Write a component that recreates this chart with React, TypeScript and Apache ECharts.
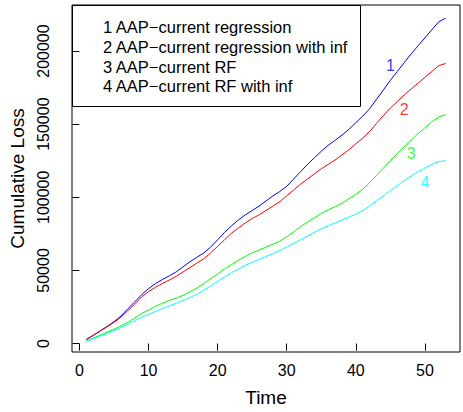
import React, { useEffect, useRef } from "react";
import * as echarts from "echarts";

const time = [1, 2, 3, 4, 5, 6, 7, 8, 9, 10, 11, 12, 13, 14, 15, 16, 17, 18, 19, 20, 21, 22, 23, 24, 25, 26, 27, 28, 29, 30, 31, 32, 33, 34, 35, 36, 37, 38, 39, 40, 41, 42, 43, 44, 45, 46, 47, 48, 49, 50, 51, 52, 53];

const regression = [2900, 5700, 8700, 11800, 15000, 18800, 23800, 28500, 33500, 37500, 41000, 43800, 46300, 49000, 52500, 56000, 59000, 62000, 66000, 71000, 76000, 80500, 84500, 88000, 91000, 94000, 97500, 101000, 104000, 107500, 112500, 117500, 122500, 127000, 131500, 135500, 139000, 142500, 146500, 151000, 155500, 160500, 167000, 173500, 180000, 186000, 192000, 198000, 203500, 209000, 214500, 220000, 222500];

const regressionInf = [2700, 5500, 8500, 11500, 14500, 18000, 22500, 27000, 32000, 35500, 38500, 41000, 43500, 46000, 49000, 52000, 55000, 58000, 62000, 66500, 71000, 75500, 79000, 82500, 85500, 88000, 91000, 94000, 97000, 101000, 105000, 109000, 112500, 116000, 119500, 122500, 125500, 129000, 132500, 136500, 140500, 145000, 150500, 156000, 161000, 165500, 170000, 174000, 178000, 182000, 186000, 190000, 191500];

const rf = [1800, 3800, 5800, 7800, 9800, 12000, 14500, 17500, 20500, 23000, 25500, 27500, 29500, 31000, 33000, 35500, 38000, 41000, 44500, 47500, 51000, 54000, 57000, 59500, 62000, 64000, 66000, 68000, 70000, 73000, 76500, 80000, 83000, 86000, 89000, 91500, 93500, 96000, 99000, 102000, 105500, 110000, 115000, 120000, 125000, 130000, 134500, 139000, 143500, 147500, 151500, 155000, 156500];

const rfInf = [1500, 3300, 5100, 7000, 8900, 11000, 13300, 15800, 18000, 20000, 22000, 24000, 25800, 27500, 29500, 31500, 33800, 36500, 39500, 42500, 45500, 48500, 51000, 53500, 55500, 57500, 59500, 61500, 63700, 66000, 68500, 71000, 73500, 76000, 78500, 80500, 82500, 84500, 86500, 88500, 91000, 94000, 97500, 101000, 104500, 108000, 111500, 114500, 117500, 120000, 122500, 124500, 125000];

const seriesNames = [
  "1 AAP\u2212current regression",
  "2 AAP\u2212current regression with inf",
  "3 AAP\u2212current RF",
  "4 AAP\u2212current RF with inf",
];
const seriesColors = ["#0000FF", "#FF0000", "#00FF00", "#00FFFF"];
const curveTags = ["1", "2", "3", "4"];
const tagTime = [45, 47, 48, 50];
const tagLoss = [190000, 160000, 130000, 110000];
const xTicks = [0, 10, 20, 30, 40, 50];
const yTicks = [0, 50000, 100000, 150000, 200000];

const FONT = '"Liberation Sans", Arial, Helvetica, sans-serif';

export default function App() {
  const ref = useRef<HTMLDivElement>(null);
  useEffect(() => {
    if (!ref.current) return;
    const chart = echarts.init(ref.current, undefined, { renderer: "svg" });
    const allSeries = [regression, regressionInf, rf, rfInf];
    const lineSeries = allSeries.map((vals, i) => ({
      type: "line",
      name: seriesNames[i],
      data: time.map((t, j) => [t, vals[j]]),
      showSymbol: false,
      symbol: "none",
      silent: true,
      lineStyle: { color: seriesColors[i], width: 1 },
      itemStyle: { color: seriesColors[i] },
      z: 2,
    }));
    const tagSeries = curveTags.map((tag, i) => ({
      type: "scatter",
      data: [[tagTime[i], tagLoss[i]]],
      symbol: "circle",
      symbolSize: 1,
      silent: true,
      itemStyle: { color: "rgba(0,0,0,0)" },
      label: {
        show: true,
        position: "inside",
        formatter: tag,
        color: seriesColors[i],
        fontSize: 16,
        fontFamily: FONT,
      },
      z: 3,
    }));
    const legendTop = [26.7, 46.7, 66.7, 86.4];
    chart.setOption({
      animation: false,
      backgroundColor: "#ffffff",
      textStyle: { fontFamily: FONT },
      grid: {
        left: 72,
        right: 3,
        top: 5,
        bottom: 60,
        show: true,
        containLabel: false,
        outerBoundsMode: "none",
        borderColor: "#000",
        borderWidth: 1,
        backgroundColor: "transparent",
      },
      xAxis: {
        type: "value",
        min: -1.08,
        max: 55.08,
        axisLine: { show: false },
        splitLine: { show: false },
        axisTick: {
          show: true,
          customValues: xTicks,
          length: 7,
          inside: false,
          lineStyle: { color: "#000", width: 1 },
        },
        axisLabel: {
          customValues: xTicks,
          fontSize: 16,
          color: "#000",
          margin: 10,
          fontFamily: FONT,
        },
        name: "Time",
        nameLocation: "middle",
        nameGap: 36,
        nameTextStyle: { fontSize: 19, color: "#000", fontFamily: FONT },
      },
      yAxis: {
        type: "value",
        min: -5747,
        max: 231470,
        axisLine: { show: false },
        splitLine: { show: false },
        axisTick: {
          show: true,
          customValues: yTicks,
          length: 7,
          inside: false,
          lineStyle: { color: "#000", width: 1 },
        },
        axisLabel: {
          customValues: yTicks,
          formatter: (v: number) => String(v),
          rotate: 90,
          fontSize: 16,
          color: "#000",
          margin: 21,
          fontFamily: FONT,
        },
        name: "Cumulative Loss",
        nameLocation: "middle",
        nameGap: 45,
        nameRotate: 90,
        nameTextStyle: { fontSize: 19, color: "#000", fontFamily: FONT },
      },
      graphic: [
        {
          type: "group",
          z: 10,
          children: [
            {
              type: "rect",
              shape: { x: 72.5, y: 5.5, width: 288, height: 101 },
              style: { fill: "#fff", stroke: "#000", lineWidth: 1 },
            },
            ...seriesNames.map((name, i) => ({
              type: "text",
              x: 103,
              y: legendTop[i],
              style: {
                text: name,
                fill: "#000",
                fontSize: 16.5,
                fontFamily: FONT,
                verticalAlign: "middle",
                align: "left",
              },
            })),
          ],
        },
      ],
      series: [...lineSeries, ...tagSeries],
    });
    return () => chart.dispose();
  }, []);
  return (
    <div
      ref={ref}
      style={{ position: "fixed", left: 0, top: 0, width: 463, height: 412 }}
    />
  );
}
